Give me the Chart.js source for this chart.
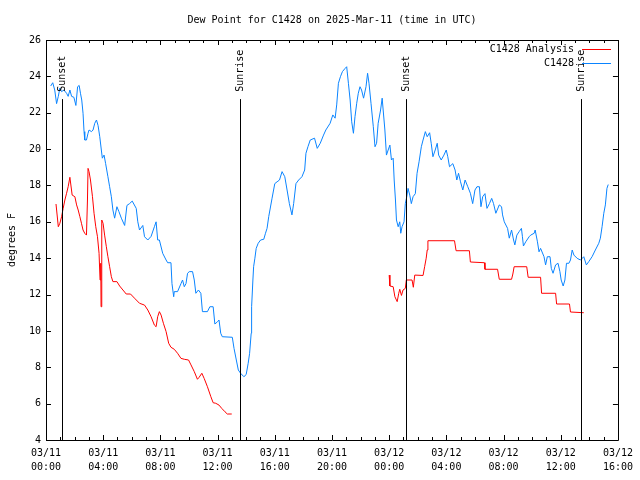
<!DOCTYPE html>
<html>
<head>
<meta charset="utf-8">
<script src="https://cdn.jsdelivr.net/npm/chart.js@4.4.1/dist/chart.umd.min.js"></script>
<style>
  body { margin: 0; background: #fff; }
</style>
</head>
<body>
<canvas id="dewChart" width="640" height="480"></canvas>
<script>
// hours since 03/11 00:00 UTC
var obsHours = [0.33, 0.47, 0.61, 0.74, 0.86, 0.97, 1.09, 1.25, 1.44, 1.55, 1.67, 1.79, 1.95, 2.09, 2.21, 2.32, 2.41, 2.50, 2.59, 2.66,
    2.71, 2.83, 2.94, 3.01, 3.18, 3.29, 3.41, 3.53, 3.64, 3.76, 3.87, 3.94, 4.06, 4.17, 4.33, 4.45, 4.57, 4.68, 4.80, 4.96,
    5.10, 5.27, 5.50, 5.66, 5.84, 6.03, 6.31, 6.42, 6.54, 6.77, 6.89, 7.12, 7.35, 7.58, 7.70, 7.81, 7.93, 8.16, 8.40, 8.51,
    8.74, 8.81, 8.93, 8.97, 9.20, 9.44, 9.55, 9.67, 9.79, 9.90, 10.02, 10.25, 10.37, 10.48, 10.66, 10.83, 10.94, 11.29, 11.46, 11.69,
    11.81, 11.99, 12.10, 12.22, 12.33, 13.03, 13.15, 13.31, 13.45, 13.61, 13.84, 14.00, 14.14, 14.24, 14.35, 14.38, 14.47, 14.52, 14.61, 14.70,
    14.84, 15.01, 15.23, 15.35, 15.46, 15.58, 15.81, 16.00, 16.16, 16.33, 16.51, 16.70, 16.86, 17.02, 17.20, 17.32, 17.48, 17.67, 17.90, 18.09,
    18.18, 18.32, 18.48, 18.78, 18.97, 19.18, 19.41, 19.57, 19.87, 20.06, 20.22, 20.33, 20.45, 20.59, 20.73, 20.92, 21.03, 21.15, 21.27, 21.38,
    21.50, 21.61, 21.73, 21.84, 21.96, 22.07, 22.21, 22.38, 22.49, 22.59, 22.73, 22.89, 23.01, 23.12, 23.23, 23.40, 23.51, 23.58, 23.70, 23.81,
    23.93, 24.05, 24.16, 24.28, 24.35, 24.44, 24.51, 24.63, 24.74, 24.81, 24.90, 25.04, 25.13, 25.23, 25.32, 25.44, 25.55, 25.67, 25.83, 25.95,
    26.09, 26.25, 26.37, 26.53, 26.66, 26.83, 26.94, 27.06, 27.22, 27.36, 27.46, 27.64, 27.83, 27.99, 28.10, 28.22, 28.45, 28.61, 28.73, 28.85,
    28.99, 29.15, 29.31, 29.50, 29.68, 29.84, 30.00, 30.14, 30.31, 30.42, 30.54, 30.70, 30.84, 31.01, 31.17, 31.30, 31.46, 31.70, 31.86, 31.93,
    32.05, 32.28, 32.40, 32.56, 32.70, 32.79, 32.93, 33.09, 33.25, 33.32, 33.39, 33.55, 33.79, 33.90, 34.14, 34.21, 34.37, 34.48, 34.59, 34.83,
    34.94, 35.06, 35.25, 35.34, 35.46, 35.64, 35.81, 35.94, 36.03, 36.17, 36.29, 36.40, 36.57, 36.68, 36.80, 36.92, 37.15, 37.38, 37.61, 37.79,
    37.96, 38.19, 38.42, 38.66, 38.77, 38.89, 39.01, 39.12, 39.23, 39.32];
var obsDew = [23.47, 23.65, 23.25, 22.5, 22.9, 23.36, 23.16, 23.25, 23.07, 22.9, 23.25, 22.9, 22.85, 22.4, 23.43, 23.5, 23.07, 22.7, 21.97, 20.96,
    20.5, 20.5, 20.87, 21.05, 20.96, 21.05, 21.42, 21.6, 21.3, 20.68, 19.95, 19.5, 19.67, 19.2, 18.48, 17.93, 17.38, 16.65, 16.2, 16.83,
    16.56, 16.2, 15.8, 16.9, 17.0, 17.14, 16.74, 16.0, 15.55, 15.8, 15.18, 15.0, 15.2, 15.73, 16.0, 15.0, 15.0, 14.27, 13.9, 13.75,
    13.75, 12.6, 11.88, 12.16, 12.16, 12.6, 12.8, 12.43, 12.6, 13.17, 13.26, 13.26, 12.8, 12.07, 12.25, 12.07, 11.06, 11.06, 11.33, 11.33,
    10.38, 10.5, 10.6, 9.87, 9.68, 9.65, 9.04, 8.4, 7.85, 7.67, 7.48, 7.6, 8.22, 8.77, 9.87, 11.33, 12.8, 13.53, 14.0, 14.54,
    14.82, 15.0, 15.04, 15.37, 15.64, 16.3, 17.3, 18.1, 18.2, 18.3, 18.76, 18.48, 17.75, 17.0, 16.38, 17.0, 18.1, 18.3, 18.48, 18.85,
    19.77, 20.13, 20.5, 20.6, 20.04, 20.32, 20.77, 21.05, 21.42, 21.88, 21.7, 22.43, 23.62, 23.98, 24.26, 24.44, 24.53, 23.62, 22.7, 21.5,
    20.87, 21.78, 22.52, 23.07, 23.43, 23.25, 22.8, 23.43, 24.17, 23.62, 22.52, 21.23, 20.13, 20.32, 21.42, 22.15, 22.8, 22.15, 21.05, 19.67,
    19.95, 20.22, 19.4, 19.5, 18.3, 17.2, 16.1, 15.73, 16.0, 15.37, 15.73, 16.0, 17.0, 17.38, 17.84, 17.47, 17.0, 17.38, 17.55, 18.67,
    19.3, 20.13, 20.5, 20.96, 20.68, 20.9, 20.32, 19.58, 19.95, 20.32, 19.67, 19.4, 19.67, 19.95, 19.58, 19.03, 19.2, 18.85, 18.3, 18.67,
    18.2, 17.75, 18.3, 17.93, 17.57, 17.0, 17.75, 17.93, 17.93, 16.83, 17.38, 17.55, 16.74, 17.0, 17.29, 17.0, 16.47, 16.93, 16.83, 16.38,
    16.0, 15.64, 15.1, 15.55, 15.0, 14.73, 15.27, 15.46, 15.64, 15.18, 14.67, 14.9, 15.18, 15.27, 15.37, 15.55, 14.9, 14.35, 14.54, 14.08,
    13.63, 14.08, 14.08, 13.44, 13.17, 13.63, 13.72, 13.26, 12.8, 12.47, 12.8, 13.72, 13.72, 13.9, 14.45, 14.17, 13.99, 13.9, 14.08, 13.63,
    13.81, 14.08, 14.45, 14.82, 15.1, 15.73, 16.47, 16.93, 17.84, 18.05];

// analysis series, null = no analysis (gap)
var anaHours = [0.70, 0.86, 0.97, 1.09, 1.20, 1.32, 1.44, 1.55, 1.67, 1.83, 2.02, 2.14, 2.25, 2.37, 2.48, 2.59, 2.71, 2.83, 2.90, 2.94,
    3.01, 3.11, 3.25, 3.36, 3.48, 3.60, 3.71, 3.78, 3.83, 3.85, 3.90, 3.99, 4.10, 4.22, 4.33, 4.45, 4.57, 4.68, 4.96, 5.15,
    5.38, 5.61, 5.91, 6.19, 6.54, 6.89, 7.12, 7.35, 7.58, 7.70, 7.81, 7.93, 8.05, 8.21, 8.40, 8.58, 8.74, 8.97, 9.20, 9.44,
    9.67, 9.97, 10.14, 10.37, 10.59, 10.71, 10.90, 11.06, 11.29, 11.53, 11.69, 11.87, 12.10, 12.29, 12.52, 12.68, 12.99, 18.5,
    24.00, 24.05, 24.28, 24.40, 24.56, 24.67, 24.74, 24.86, 24.97, 25.13, 25.20, 25.60, 25.69, 25.79, 26.37, 26.48, 26.59, 26.66, 26.71, 28.57,
    28.68, 29.61, 29.68, 30.66, 30.70, 31.58, 31.70, 32.56, 32.65, 32.74, 33.62, 33.72, 34.59, 34.66, 35.64, 35.71, 36.61, 36.68, 37.61];
var anaDew = [16.98, 15.73, 15.92, 16.28, 16.74, 17.2, 17.57, 17.93, 18.45, 17.47, 17.38, 16.93, 16.65, 16.28, 15.92, 15.55, 15.37, 15.27, 17.2, 18.94,
    18.76, 18.3, 17.38, 16.47, 15.73, 15.18, 14.27, 12.8, 13.72, 11.33, 16.1, 15.92, 15.27, 14.63, 14.08, 13.53, 12.98, 12.71, 12.71, 12.47,
    12.25, 12.03, 12.03, 11.8, 11.52, 11.42, 11.15, 10.78, 10.32, 10.23, 10.78, 11.06, 10.87, 10.42, 9.96, 9.32, 9.1, 8.99, 8.77, 8.49,
    8.44, 8.4, 8.13, 7.76, 7.34, 7.45, 7.67, 7.39, 6.93, 6.38, 6.05, 6.02, 5.92, 5.74, 5.55, 5.43, 5.43, null,
    13.07, 12.47, 12.43, 11.88, 11.61, 12.07, 12.29, 11.95, 12.25, 12.34, 12.8, 12.8, 12.4, 13.07, 13.05, 13.53, 14.0, 14.45, 14.96, 14.96,
    14.41, 14.41, 13.79, 13.75, 13.39, 13.39, 12.84, 12.84, 13.13, 13.53, 13.53, 12.95, 12.95, 12.07, 12.07, 11.48, 11.48, 11.04, 11.0];

var sunHours = [1.13, 13.54, 25.16, 37.45];
var sunLabels = ['Sunset', 'Sunrise', 'Sunset', 'Sunrise'];
var sunLineTop = 22.75;
var sunTextStart = 23.15;

var xTicks = [0, 4, 8, 12, 16, 20, 24, 28, 32, 36, 40];
var yTicks = [4, 6, 8, 10, 12, 14, 16, 18, 20, 22, 24, 26];

var FONT = '"DejaVu Sans Mono", "Liberation Mono", monospace';

function toPoints(xs, ys) {
    return xs.map(function (x, i) { return { x: x, y: ys[i] }; });
}

function tickLabel(h) {
    var day = 11 + Math.floor(h / 24);
    var hh = h % 24;
    return ['03/' + day, (hh < 10 ? '0' : '') + hh + ':00'];
}

// gnuplot-ish frame: border, inward ticks, sun lines, legend, title
var framePlugin = {
    id: 'frame',
    afterDraw: function (chart) {
        var ctx = chart.ctx;
        var a = chart.chartArea;
        var xs = chart.scales.x;
        var ys = chart.scales.y;
        ctx.save();
        ctx.strokeStyle = '#000';
        ctx.lineWidth = 1;
        ctx.beginPath();
        ctx.rect(Math.round(a.left) + 0.5, Math.round(a.top) + 0.5, Math.round(a.right - a.left), Math.round(a.bottom - a.top));
        ctx.stroke();

        ctx.beginPath();
        for (var h = 0; h <= 40; h++) {
            var px = Math.round(xs.getPixelForValue(h)) + 0.5;
            var len = (h % 4 === 0) ? 5 : 3;
            ctx.moveTo(px, a.bottom);
            ctx.lineTo(px, a.bottom - len);
            ctx.moveTo(px, a.top);
            ctx.lineTo(px, a.top + len);
        }
        yTicks.forEach(function (v) {
            var py = Math.round(ys.getPixelForValue(v)) + 0.5;
            ctx.moveTo(a.left, py);
            ctx.lineTo(a.left + 5, py);
            ctx.moveTo(a.right, py);
            ctx.lineTo(a.right - 5, py);
        });
        ctx.stroke();

        // sunrise / sunset
        ctx.font = '10px ' + FONT;
        ctx.fillStyle = '#000';
        sunHours.forEach(function (h, i) {
            var px = Math.round(xs.getPixelForValue(h)) + 0.5;
            ctx.beginPath();
            ctx.moveTo(px, ys.getPixelForValue(sunLineTop));
            ctx.lineTo(px, a.bottom);
            ctx.stroke();
            ctx.save();
            ctx.translate(px, ys.getPixelForValue(sunTextStart));
            ctx.rotate(-Math.PI / 2);
            ctx.textAlign = 'left';
            ctx.textBaseline = 'middle';
            ctx.fillText(sunLabels[i], 0, 0);
            ctx.restore();
        });

        // legend
        var items = [['C1428 Analysis', '#ff0000'], ['C1428', '#0a84ff']];
        items.forEach(function (it, i) {
            var y = 49 + i * 14;
            ctx.textAlign = 'right';
            ctx.textBaseline = 'middle';
            ctx.fillStyle = '#000';
            ctx.fillText(it[0], 574, y + 0.5);
            ctx.strokeStyle = it[1];
            ctx.beginPath();
            ctx.moveTo(582, y + 0.5);
            ctx.lineTo(611, y + 0.5);
            ctx.stroke();
        });

        // title
        ctx.fillStyle = '#000';
        ctx.textAlign = 'center';
        ctx.textBaseline = 'middle';
        ctx.fillText('Dew Point for C1428 on 2025-Mar-11 (time in UTC)', (a.left + a.right) / 2, 20);
        ctx.restore();
    }
};

var data = {
    datasets: [{
        label: 'C1428 Analysis',
        data: toPoints(anaHours, anaDew),
        borderColor: '#ff0000',
        borderWidth: 1,
        pointRadius: 0,
        spanGaps: false,
    },
    {
        label: 'C1428',
        data: toPoints(obsHours, obsDew),
        borderColor: '#0a84ff',
        borderWidth: 1,
        pointRadius: 0,
    }]
};

var config = {
    type: 'line',
    data: data,
    options: {
        responsive: false,
        animation: false,
        devicePixelRatio: 1,
        layout: { padding: { top: 40, right: 19, left: 0, bottom: 0 } },
        plugins: {
            legend: { display: false },
            tooltip: { enabled: false },
        },
        scales: {
            x: {
                type: 'linear',
                min: 0,
                max: 40,
                afterBuildTicks: function (s) { s.ticks = xTicks.map(function (v) { return { value: v }; }); },
                afterFit: function (s) { s.height = 40; },
                grid: { display: false, drawTicks: false },
                border: { display: false },
                ticks: {
                    color: '#000',
                    maxRotation: 0,
                    autoSkip: false,
                    padding: 7,
                    font: { family: FONT, size: 10, lineHeight: 1.35 },
                    callback: function (v) { return tickLabel(v); },
                },
            },
            y: {
                min: 4,
                max: 26,
                afterBuildTicks: function (s) { s.ticks = yTicks.map(function (v) { return { value: v }; }); },
                afterFit: function (s) { s.width = 46; },
                grid: { display: false, drawTicks: false },
                border: { display: false },
                ticks: {
                    color: '#000',
                    padding: 5,
                    font: { family: FONT, size: 10 },
                },
                title: {
                    display: true,
                    text: 'degrees F',
                    color: '#000',
                    padding: { top: 6, bottom: 0 },
                    font: { family: FONT, size: 10 },
                },
            },
        },
    },
    plugins: [framePlugin],
};

var dewChart = new Chart(
    document.getElementById('dewChart'),
    config,
);
</script>
</body>
</html>
